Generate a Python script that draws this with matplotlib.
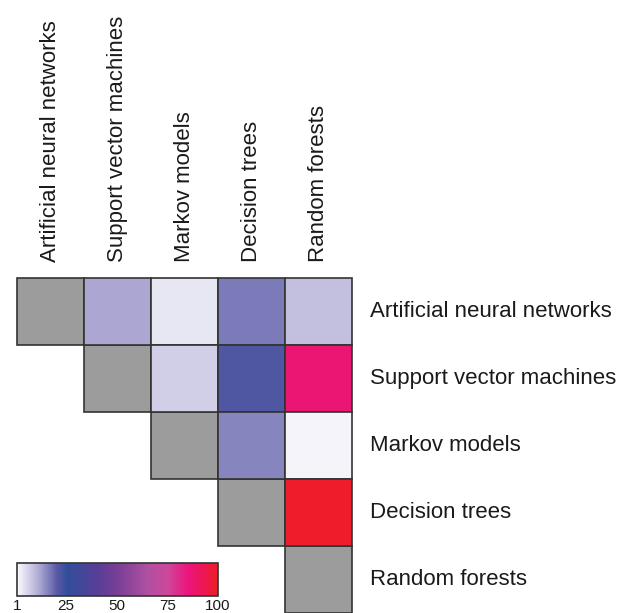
import numpy as np
import matplotlib.pyplot as plt
from matplotlib.colors import LinearSegmentedColormap, Normalize
from matplotlib.patches import Rectangle
from matplotlib.cm import ScalarMappable

plt.rcParams['font.family'] = ['Liberation Sans', 'DejaVu Sans']

methods = ['Artificial neural networks', 'Support vector machines',
           'Markov models', 'Decision trees', 'Random forests']

# upper-triangle values (row i, col j, j > i)
row_idx = [0, 0, 0, 0, 1, 1, 1, 2, 2, 3]
col_idx = [1, 2, 3, 4, 2, 3, 4, 3, 4, 4]
values = [12, 4, 17, 9, 7, 22, 87, 16, 2, 99]

cbar_ticks = [1, 25, 50, 75, 100]

cmap = LinearSegmentedColormap.from_list('bwr_custom', [
    (0.00, (250/255, 250/255, 253/255)),
    (0.10, (180/255, 176/255, 215/255)),
    (0.20, (88/255, 88/255, 165/255)),
    (0.25, (50/255, 78/255, 154/255)),
    (0.40, (88/255, 62/255, 150/255)),
    (0.50, (120/255, 62/255, 150/255)),
    (0.65, (175/255, 80/255, 160/255)),
    (0.75, (205/255, 72/255, 155/255)),
    (0.85, (235/255, 22/255, 125/255)),
    (0.92, (236/255, 22/255, 90/255)),
    (1.00, (237/255, 30/255, 38/255)),
])
norm = Normalize(vmin=1, vmax=100)

fig = plt.figure(figsize=(6.19, 6.13), dpi=100)
ax = fig.add_axes([17/619, 0, 335/619, 335/613])
n = len(methods)
ax.set_xlim(0, n)
ax.set_ylim(n, 0)
ax.axis('off')

edge = '#333333'
for i in range(n):
    ax.add_patch(Rectangle((i, i), 1, 1, facecolor='#9c9c9c', edgecolor=edge,
                           lw=1.2, clip_on=False))
for i, j, v in zip(row_idx, col_idx, values):
    ax.add_patch(Rectangle((j, i), 1, 1, facecolor=cmap(norm(v)), edgecolor=edge,
                           lw=1.2, clip_on=False))

for k, name in enumerate(methods):
    ax.text(k + 0.5, -0.24, name, rotation=90, ha='center', va='bottom',
            fontsize=16, color='#1a1a1a')
    ax.text(n + 0.27, k + 0.5, name, ha='left', va='center',
            fontsize=16, color='#1a1a1a')

cax = fig.add_axes([17/619, 17/613, 201/619, 33/613])
sm = ScalarMappable(norm=norm, cmap=cmap)
cb = fig.colorbar(sm, cax=cax, orientation='horizontal', ticks=cbar_ticks)
cb.outline.set_linewidth(1.2)
cb.outline.set_edgecolor(edge)
cb.ax.tick_params(length=0, labelsize=11, pad=2, colors='#1a1a1a')

fig.savefig('out.png', dpi=100)
